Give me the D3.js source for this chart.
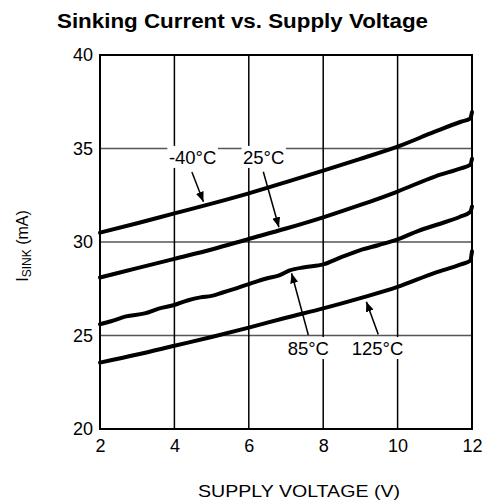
<!DOCTYPE html>
<html><head><meta charset="utf-8">
<script src="https://cdn.jsdelivr.net/npm/d3@7"></script>
<style>body{margin:0;background:#fff} svg{display:block}</style>
</head><body><svg id="c" width="482" height="504"></svg>
<script>
// ---- data ----
const voltage = [2,3,4,5,6,7,8,9,10,11,11.7,11.95,12];
const iMinus40 = [30.5,31.0,31.53,32.05,32.6,33.2,33.82,34.45,35.1,35.9,36.43,36.6,36.95];
const i25 = [28.1,28.6,29.1,29.6,30.16,30.72,31.32,31.98,32.7,33.5,33.94,34.12,34.45];
const i125 = [23.55,23.98,24.45,24.92,25.42,25.95,26.45,27.0,27.6,28.35,28.8,29.0,29.5];
const voltage85 = [2,2.3,2.7,3.2,3.6,4,4.35,4.7,5,5.3,5.7,6,6.5,6.8,7.1,7.5,8,8.5,9,9.5,10,10.56,11.1,11.68,11.95,12];
const i85 = [25.6,25.76,26.02,26.18,26.45,26.63,26.87,27.04,27.12,27.3,27.55,27.75,28.06,28.2,28.48,28.65,28.8,29.2,29.57,29.84,30.14,30.6,30.95,31.35,31.6,31.9];
const xTicks = [2,4,6,8,10,12];
const yTicks = [20,25,30,35,40];
const labelNames = ["-40°C","25°C","85°C","125°C"];
const labelV = [4.49,6.4,7.6,9.46];
const labelI = [34.55,34.55,24.33,24.33];
const arrowTailV = [4.47,6.39,7.6,9.48];
const arrowTailI = [33.74,33.76,25.03,25.06];
const arrowTipV = [4.78,6.81,7.15,9.16];
const arrowTipI = [32.15,30.79,28.33,26.81];

// ---- layout ----
const svg = d3.select("#c");
const L = 100, T = 55, W = 372, H = 374;
const x = d3.scaleLinear().domain([2,12]).range([L, L+W]);
const y = d3.scaleLinear().domain([20,40]).range([T+H, T]);
const font = "Liberation Sans, Arial, Helvetica, sans-serif";

// title
svg.append("text").attr("x", 242.5).attr("y", 27.5).attr("text-anchor","middle")
  .attr("font-family", font).attr("font-weight","bold").attr("font-size", 20)
  .attr("textLength", 371).attr("lengthAdjust","spacingAndGlyphs")
  .text("Sinking Current vs. Supply Voltage");

// grid
const g = svg.append("g");
g.selectAll(".hg").data(yTicks.slice(1,-1)).enter().append("line")
  .attr("x1", L).attr("x2", L+W).attr("y1", d=>y(d)).attr("y2", d=>y(d))
  .attr("stroke", "#555").attr("stroke-width", 1.3);
g.selectAll(".vg").data(xTicks.slice(1,-1)).enter().append("line")
  .attr("y1", T).attr("y2", T+H).attr("x1", d=>x(d)).attr("x2", d=>x(d))
  .attr("stroke", "#000").attr("stroke-width", 1.5);

// curves
const line = d3.line().x(d=>x(d[0])).y(d=>y(d[1])).curve(d3.curveMonotoneX);
const series = [
  d3.zip(voltage, iMinus40),
  d3.zip(voltage, i25),
  d3.zip(voltage85, i85),
  d3.zip(voltage, i125)
];
svg.append("g").selectAll("path").data(series).enter().append("path")
  .attr("d", line).attr("fill","none").attr("stroke","#000").attr("stroke-width", 4)
  .attr("stroke-linecap","round").attr("stroke-linejoin","round");

// frame
svg.append("rect").attr("x", L).attr("y", T).attr("width", W).attr("height", H)
  .attr("fill","none").attr("stroke","#000").attr("stroke-width", 2);

// axis tick labels via d3 axes (no tick lines)
const ax = d3.axisBottom(x).tickValues(xTicks).tickSize(0).tickPadding(10).tickFormat(d3.format("d"));
const ay = d3.axisLeft(y).tickValues(yTicks).tickSize(0).tickPadding(7).tickFormat(d3.format("d"));
const gx = svg.append("g").attr("transform", `translate(0,${T+H})`).call(ax);
const gy = svg.append("g").attr("transform", `translate(${L},0)`).call(ay);
[gx, gy].forEach(a => {
  a.select(".domain").remove();
  a.selectAll("text").attr("font-family", font).attr("font-size", 18).attr("fill","#000");
});

// annotation labels with white boxes
const ann = svg.append("g");
labelNames.forEach((t,i) => {
  const cx = x(labelV[i]), cy = y(labelI[i]);
  const tx = ann.append("text").attr("x", cx).attr("y", cy).attr("dy","0.36em")
    .attr("text-anchor","middle").attr("font-family", font).attr("font-size", 18.5).text(t);
  const bb = tx.node().getBBox();
  ann.insert("rect", "text").attr("x", bb.x-1.5).attr("y", cy-11).attr("width", bb.width+3).attr("height", 22)
    .attr("fill","#fff");
});

// arrows
svg.append("defs").append("marker").attr("id","ah").attr("viewBox","0 0 10 8")
  .attr("refX", 10).attr("refY", 4).attr("markerWidth", 10).attr("markerHeight", 8)
  .attr("markerUnits","userSpaceOnUse").attr("orient","auto")
  .append("path").attr("d","M0,0 L10,4 L0,8 Z").attr("fill","#000");
labelNames.forEach((t,i) => {
  svg.append("line").attr("x1", x(arrowTailV[i])).attr("y1", y(arrowTailI[i]))
    .attr("x2", x(arrowTipV[i])).attr("y2", y(arrowTipI[i]))
    .attr("stroke","#000").attr("stroke-width", 1.5).attr("marker-end","url(#ah)");
});

// axis titles
svg.append("text").attr("x", 299).attr("y", 497).attr("text-anchor","middle")
  .attr("font-family", font).attr("font-size", 17)
  .attr("textLength", 202).attr("lengthAdjust","spacingAndGlyphs")
  .text("SUPPLY VOLTAGE (V)");
const yt = svg.append("text").attr("transform","translate(28,246) rotate(-90)")
  .attr("text-anchor","middle").attr("font-family", font).attr("font-size", 16);
yt.append("tspan").text("I");
yt.append("tspan").attr("font-size", 12).attr("dy", 3).text("SINK");
yt.append("tspan").attr("dy", -3).text(" (mA)");
</script></body></html>
